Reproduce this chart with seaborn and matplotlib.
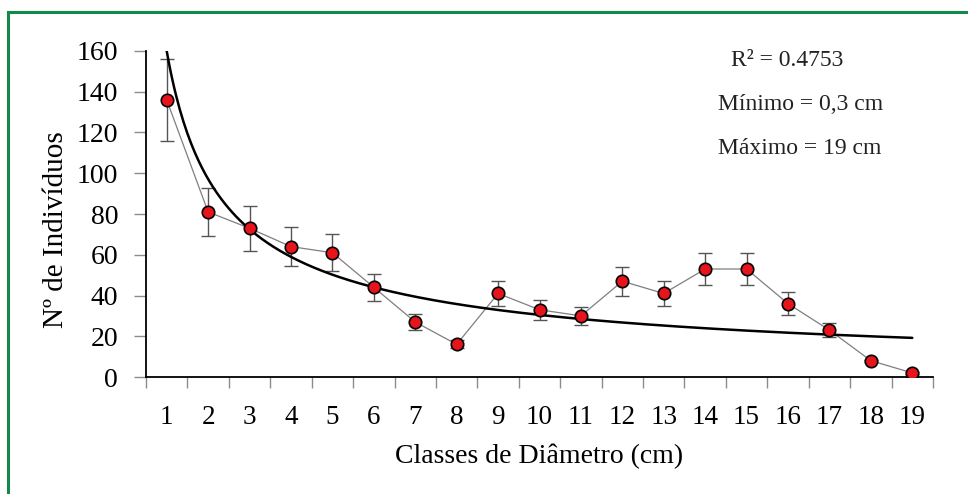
import numpy as np
import pandas as pd
import matplotlib
matplotlib.use("Agg")
import matplotlib.pyplot as plt
import seaborn as sns
from matplotlib.patches import Rectangle

# ---- data ----
classes = list(range(1, 20))
individuals = [136, 81, 73, 64, 61, 44, 27, 16, 41, 33, 30, 47, 41, 53, 53, 36, 23, 8, 2]
errors = [20, 12, 11, 9.5, 9, 6.5, 4, 2, 6, 5, 4.5, 7, 6, 8, 8, 5.5, 3.3, 0.5, 0.3]
tick_labels = [str(c) for c in classes]
# power trend line y = a * x^b
trend_a = 160.0
trend_b = -0.72
annotations = ["R² = 0.4753", "Mínimo = 0,3 cm", "Máximo = 19 cm"]

df = pd.DataFrame({"classe": classes, "n": individuals, "err": errors})
xs = np.linspace(1, 19, 400)
trend = pd.DataFrame({"x": xs, "y": trend_a * xs ** trend_b})

sns.set_theme(style="white")
plt.rcParams["font.family"] = ["Liberation Serif", "DejaVu Serif"]

W, H = 968, 494
fig = plt.figure(figsize=(W / 100, H / 100), dpi=100)
ax = fig.add_axes([146 / W, 1 - 377 / H, (933 - 146) / W, (377 - 51) / H])

# green frame
fig.patches.append(Rectangle((8 / W, -0.1), 1.2, (H - 12) / H + 0.1,
                             transform=fig.transFigure, fill=False,
                             edgecolor="#15894a", linewidth=2.2, zorder=0))

ax.errorbar(df["classe"], df["n"], yerr=df["err"], fmt="none",
            ecolor="#555555", elinewidth=1.0, capsize=5, capthick=1.0, zorder=2)
sns.lineplot(data=df, x="classe", y="n", ax=ax, color="#7f7f7f", linewidth=0.9,
             zorder=3, legend=False)
sns.lineplot(data=trend, x="x", y="y", ax=ax, color="black", linewidth=1.8,
             zorder=4, legend=False)
sns.scatterplot(data=df, x="classe", y="n", ax=ax, color="#e8141c",
                edgecolor="black", linewidth=1.2, s=80, zorder=5, legend=False)

ax.set_xlim(0.5, 19.5)
ax.set_ylim(0, 160)
ax.set_yticks(range(0, 161, 20))
ax.set_xticks(np.arange(0.5, 20, 1))
ax.set_xticklabels([])
ax.set_xticks(classes, minor=True)
ax.set_xticklabels(tick_labels, minor=True)

for s in ["top", "right"]:
    ax.spines[s].set_visible(False)
for s in ["left", "bottom"]:
    ax.spines[s].set_color("black")
    ax.spines[s].set_linewidth(1.3)

ax.tick_params(axis="y", which="major", direction="out", length=9, width=1,
               color="#8c8c8c", labelsize=20, pad=11, left=True, labelcolor="black")
ax.tick_params(axis="x", which="major", direction="out", length=8, width=1,
               color="#8c8c8c", bottom=True)
ax.tick_params(axis="x", which="minor", length=0, labelsize=19.5, pad=20,
               labelcolor="black")

ax.set_xlabel("Classes de Diâmetro (cm)", fontsize=20, labelpad=10, color="black")
ax.set_ylabel("Nº de Indivíduos", fontsize=21, color="black", va="center")
ax.yaxis.set_label_coords((56 - 146) / 787, (377 - 230) / 326)

ypos = [60, 104, 148]
xpos = [787, 801, 800]
for t, x, y in zip(annotations, xpos, ypos):
    fig.text(x / W, 1 - y / H, t, ha="center", va="center", fontsize=17, color="#222222")

ax.set_facecolor("white")
fig.savefig("out.png", dpi=100, facecolor="white")
